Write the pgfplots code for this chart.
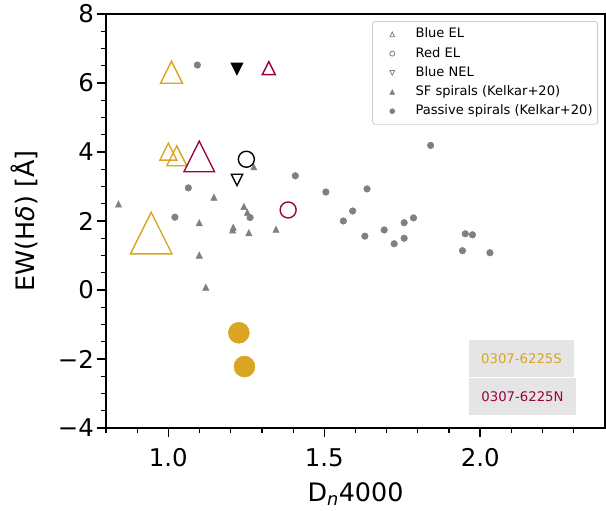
\documentclass[border=0pt]{standalone}
\usepackage{fontspec}
\setmainfont{DejaVu Sans}
\usepackage{pgfplots}
\pgfplotsset{compat=1.18}
\definecolor{gold}{RGB}{218,165,32}
\definecolor{crim}{RGB}{158,1,66}
\definecolor{mgrey}{RGB}{128,128,128}
\pgfdeclareplotmark{mtri}{%
  \pgfpathmoveto{\pgfqpoint{0pt}{\pgfplotmarksize}}%
  \pgfpathlineto{\pgfqpoint{-\pgfplotmarksize}{-\pgfplotmarksize}}%
  \pgfpathlineto{\pgfqpoint{\pgfplotmarksize}{-\pgfplotmarksize}}%
  \pgfpathclose\pgfusepathqstroke}
\pgfdeclareplotmark{mtri*}{%
  \pgfpathmoveto{\pgfqpoint{0pt}{\pgfplotmarksize}}%
  \pgfpathlineto{\pgfqpoint{-\pgfplotmarksize}{-\pgfplotmarksize}}%
  \pgfpathlineto{\pgfqpoint{\pgfplotmarksize}{-\pgfplotmarksize}}%
  \pgfpathclose\pgfusepathqfillstroke}
\pgfdeclareplotmark{mtrid}{%
  \pgfpathmoveto{\pgfqpoint{0pt}{-\pgfplotmarksize}}%
  \pgfpathlineto{\pgfqpoint{-\pgfplotmarksize}{\pgfplotmarksize}}%
  \pgfpathlineto{\pgfqpoint{\pgfplotmarksize}{\pgfplotmarksize}}%
  \pgfpathclose\pgfusepathqstroke}
\pgfdeclareplotmark{mtrid*}{%
  \pgfpathmoveto{\pgfqpoint{0pt}{-\pgfplotmarksize}}%
  \pgfpathlineto{\pgfqpoint{-\pgfplotmarksize}{\pgfplotmarksize}}%
  \pgfpathlineto{\pgfqpoint{\pgfplotmarksize}{\pgfplotmarksize}}%
  \pgfpathclose\pgfusepathqfillstroke}
\begin{document}
\begin{tikzpicture}
\useasboundingbox (-106bp,-83bp) rectangle (500bp,428bp);
\begin{axis}[
  scale only axis, width=499bp, height=414bp,
  xmin=0.8, xmax=2.4, ymin=-4, ymax=8,
  xtick={1.0,1.5,2.0}, xticklabels={1.0,1.5,2.0},
  ytick={-4,-2,0,2,4,6,8}, yticklabels={−4,−2,0,2,4,6,8},
  minor xtick={0.8,0.9,1.1,1.2,1.3,1.4,1.6,1.7,1.8,1.9,2.1,2.2,2.3},
  minor ytick={-3.5,-3,-2.5,-1.5,-1,-0.5,0.5,1,1.5,2.5,3,3.5,4.5,5,5.5,6.5,7,7.5},
  tick pos=left, tick align=outside,
  major tick length=8.5bp, minor tick length=4.5bp,
  axis line style={line width=1.6bp},
  every tick/.style={black, line width=1.6bp},
  minor tick style={line width=1.2bp},
  ticklabel style={font=\fontsize{24.5}{29}\selectfont},
  xticklabel style={anchor=base, yshift=-30bp},
  yticklabel style={anchor=east, inner xsep=0pt, xshift=-3.5bp},
  xlabel={D\textsubscript{\textit{n}}4000},
  ylabel={EW(H\textit{δ}) [Å]},
  label style={font=\fontsize{25.5}{30}\selectfont},
  xlabel style={at={(axis description cs:0.5,-0.1787)}, anchor=base},
  ylabel style={at={(axis description cs:-0.1643,0.5)}, anchor=center},
  legend style={at={(rel axis cs:0.986,0.983)}, anchor=north east,
    draw=black!20, line width=0.8bp, rounded corners=2.5bp, fill=white,
    font=\fontsize{13.1}{16}\selectfont, row sep=6.2bp,
    inner xsep=5bp, inner ysep=6.5bp,
    nodes={inner sep=0pt, text height=10bp, text depth=3bp},
    column sep=0pt},
  legend cell align=left,
  legend image code/.code={\path[draw=none,fill=none] (0bp,0bp) -- (38bp,0bp); \draw[#1] plot coordinates {(14.7bp,0bp)};},
]
\addlegendimage{only marks, mark=mtri, mark size=2.4bp, draw=mgrey, line width=0.8bp}
\addlegendentry{Blue EL}
\addlegendimage{only marks, mark=o, mark size=2.5bp, draw=mgrey, line width=0.8bp}
\addlegendentry{Red EL}
\addlegendimage{only marks, mark=mtrid, mark size=2.4bp, draw=mgrey, line width=0.8bp}
\addlegendentry{Blue NEL}
\addlegendimage{only marks, mark=mtri*, mark size=2.4bp, draw=mgrey, fill=mgrey, line width=0.5bp}
\addlegendentry{SF spirals (Kelkar+20)}
\addlegendimage{only marks, mark=*, mark size=2.5bp, draw=mgrey, fill=mgrey, line width=0.5bp}
\addlegendentry{Passive spirals (Kelkar+20)}

% SF spirals
\addplot[forget plot, only marks, mark=mtri*, mark size=3.1bp, draw=mgrey, fill=mgrey, line width=0.5bp] coordinates {
(0.84,2.49) (1.146,2.69) (1.274,3.57) (1.242,2.42) (1.253,2.25) (1.099,1.95)
(1.208,1.82) (1.206,1.74) (1.258,1.66) (1.345,1.76) (1.099,1.01) (1.12,0.08)};
% Passive spirals
\addplot[forget plot, only marks, mark=*, mark size=3.3bp, draw=mgrey, fill=mgrey, line width=0.5bp] coordinates {
(1.093,6.52) (1.064,2.96) (1.021,2.11) (1.262,2.10) (1.841,4.19) (1.407,3.31)
(1.505,2.84) (1.637,2.93) (1.591,2.29) (1.561,2.00) (1.786,2.09) (1.756,1.95)
(1.692,1.74) (1.630,1.56) (1.756,1.50) (1.724,1.34) (1.952,1.63) (1.975,1.60)
(1.943,1.14) (2.031,1.08)};

% 0307-6225S (gold)
\addplot[forget plot, only marks, mark=mtri, mark size=11bp, draw=gold, line width=1.4bp] coordinates {(1.01,6.31)};
\addplot[forget plot, only marks, mark=mtri, mark size=8.5bp, draw=gold, line width=1.4bp] coordinates {(1.00,4.01)};
\addplot[forget plot, only marks, mark=mtri, mark size=10bp, draw=gold, line width=1.4bp] coordinates {(1.027,3.89)};
\addplot[forget plot, only marks, mark=mtri, mark size=20.8bp, draw=gold, line width=1.4bp] coordinates {(0.945,1.65)};
\addplot[forget plot, only marks, mark=*, mark size=10.5bp, draw=gold, fill=gold, line width=0.5bp] coordinates {(1.226,-1.24) (1.244,-2.22)};
% 0307-6225N (crimson)
\addplot[forget plot, only marks, mark=mtri, mark size=15.3bp, draw=crim, line width=1.4bp] coordinates {(1.099,3.87)};
\addplot[forget plot, only marks, mark=mtri, mark size=6.5bp, draw=crim, line width=1.4bp] coordinates {(1.322,6.43)};
\addplot[forget plot, only marks, mark=o, mark size=8bp, draw=crim, line width=1.4bp] coordinates {(1.384,2.32)};
% black
\addplot[forget plot, only marks, mark=o, mark size=8bp, draw=black, line width=1.4bp] coordinates {(1.25,3.79)};
\addplot[forget plot, only marks, mark=mtrid, mark size=5.7bp, draw=black, line width=1.4bp] coordinates {(1.22,3.19)};
\addplot[forget plot, only marks, mark=mtrid*, mark size=5.8bp, draw=black, fill=black, line width=1bp] coordinates {(1.22,6.41)};

\node[fill=black!10, text=gold, minimum width=105bp, minimum height=37bp, inner sep=0pt, font=\fontsize{13.3}{15}\selectfont] at (rel axis cs:0.8327,0.1679) {0307-6225S};
\node[fill=black!10, text=crim, minimum width=107bp, minimum height=37bp, inner sep=0pt, font=\fontsize{13.3}{15}\selectfont] at (rel axis cs:0.8347,0.0761) {0307-6225N};
\end{axis}
\end{tikzpicture}
\end{document}
